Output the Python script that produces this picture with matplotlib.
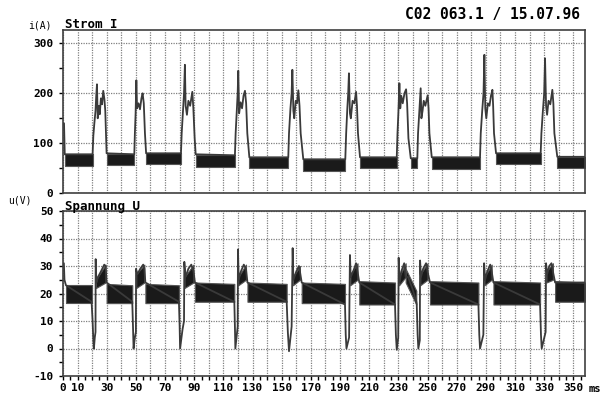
import numpy as np
import matplotlib.pyplot as plt
from matplotlib.ticker import MultipleLocator

# Strom I: Zeit (ms) und Strom (A), Umriss der Kurve
strom_t = [0, 0.7, 1.2,
           20.3, 20.8, 21.5, 22.3, 22.8, 23.3, 23.8, 24.5, 25.2, 26.0, 26.8, 27.6, 28.4, 29.0, 29.9,
           48.9, 49.3, 49.8, 50.3, 50.8, 51.8, 52.8, 53.8, 54.6, 55.4, 56.2, 57.0,
           80.9, 81.4, 82.2, 83.0, 83.6, 84.1, 85.0, 86.0, 87.2, 88.7, 89.4, 90.3, 91.0,
           117.9, 118.4, 119.2, 119.8, 120.2, 120.8, 121.8, 122.8, 123.8, 124.8, 125.6, 126.4, 127.8,
           154.5, 155.0, 156.0, 156.8, 157.3, 158.0, 158.6, 159.6, 160.5, 161.4, 162.2, 163.0, 164.8,
           193.6, 194.2, 195.0, 195.6, 196.1, 196.8, 197.4, 198.6, 199.8, 201.0, 201.6, 202.3, 203.7,
           228.9, 229.4, 230.0, 230.7, 231.3, 232.0, 233.0, 234.2, 235.3, 236.0, 236.9, 238.5,
           243.0, 243.5, 244.3, 245.3, 245.8, 246.6, 247.4, 248.5, 250.1, 250.7, 251.3, 252.9,
           286.0, 286.5, 287.5, 288.4, 289.0, 289.6, 290.3, 291.4, 292.5, 293.5, 294.5, 295.0, 295.6, 297.0,
           327.6, 328.1, 329.0, 330.0, 330.6, 331.3, 332.0, 333.0, 334.2, 335.6, 336.3, 337.0, 339.0,
           358]
strom_i = [140, 140, 78,
           78, 115, 140, 165, 195, 218, 150, 175, 158, 190, 178, 205, 188, 165, 80,
           78, 120, 160, 226, 170, 180, 168, 190, 200, 180, 120, 80,
           80, 120, 160, 200, 257, 175, 157, 185, 175, 203, 170, 110, 78,
           76, 120, 165, 200, 245, 160, 182, 170, 195, 205, 180, 120, 72,
           72, 120, 170, 200, 247, 165, 150, 185, 180, 206, 175, 120, 68,
           68, 120, 170, 200, 240, 160, 150, 185, 180, 203, 175, 120, 72,
           72, 120, 160, 220, 170, 195, 180, 200, 208, 180, 110, 70,
           70, 120, 160, 210, 150, 165, 185, 175, 196, 170, 120, 72,
           72, 120, 165, 200, 277, 170, 150, 180, 175, 195, 207, 175, 120, 80,
           80, 120, 160, 200, 270, 175, 157, 185, 178, 207, 180, 120, 73,
           73]

# Grundstrom-Band (verrauscht): von, bis, unten, oben
strom_band_von = [1.2, 30.0, 57.0, 91.0, 127.8, 164.8, 203.7, 238.5, 252.9, 297.0, 339.0]
strom_band_bis = [20.3, 48.9, 80.9, 117.9, 154.5, 193.6, 228.9, 243.0, 286.0, 327.6, 358]
strom_band_lo = [55, 57, 58, 52, 50, 45, 50, 50, 48, 58, 50]
strom_band_hi = [78, 78, 80, 76, 72, 68, 72, 70, 72, 80, 73]

# Spannung U: Zeit (ms) und Spannung (V)
spannung_t = [0, 0.6, 1.0, 2.0,
              19.6, 20.3, 20.8, 21.2, 21.8, 22.3, 22.4, 22.9, 24.0, 26.0, 28.3, 29.2, 29.9,
              47.5, 48.0, 48.4, 49.3, 50.0, 50.1, 51.0, 53.0, 55.0, 55.8, 56.5,
              79.5, 80.0, 80.3, 82.0, 83.0, 83.2, 84.0, 86.0, 88.0, 89.5, 90.5,
              117.5, 117.9, 118.2, 119.8, 120.0, 120.5, 122.0, 124.0, 125.5, 126.5,
              153.4, 154.2, 155.0, 156.8, 157.5, 158.0, 160.0, 161.8, 162.5, 163.7,
              193.4, 193.9, 194.4, 196.2, 196.8, 197.3, 199.0, 201.0, 202.0, 203.2,
              227.7, 228.3, 228.9, 229.9, 230.2, 230.8, 232.0, 234.0, 235.0, 236.7, 239.5, 242.3,
              242.6, 243.2, 243.7, 244.7, 244.9, 245.5, 247.0, 249.0, 250.0, 251.7,
              284.9, 285.5, 286.0, 288.3, 288.8, 289.5, 291.0, 293.0, 294.0, 295.2,
              327.2, 327.8, 328.3, 331.0, 331.3, 332.0, 333.5, 335.0, 336.0, 337.5,
              358]
spannung_u = [31, 31, 25, 23,
              17, 10, 3, 0, 4, 6, 32.5, 24, 26, 28, 30.5, 30, 24,
              17, 8, 0, 4, 6, 29, 27, 29, 30.5, 29, 24,
              17, 8, 0, 7, 10, 31.5, 26, 29, 30.5, 28, 24,
              17, 8, 0, 8, 36, 25, 28, 30.5, 29, 24,
              17, 6, -1, 8, 36.5, 25, 28, 30, 28, 24,
              16, 5, 0, 4, 34, 26, 28, 31, 28, 24,
              16, 5, -0.5, 4, 33, 24, 28, 31, 26, 26, 22, 17,
              16, 5, 0, 3, 32, 26, 29, 31, 28, 24,
              16, 5, 0, 5, 31, 25, 28, 30.5, 28, 24,
              16, 5, 0, 6, 31, 27, 30, 31, 28, 24,
              24]

# Spannungs-Band: von, bis, unten (Anfang/Ende), oben (Anfang/Ende)
spannung_band_von = [2.0, 22.6, 29.9, 50.2, 56.5, 83.3, 90.5, 120.2, 126.5, 157.7, 163.7,
                     197.0, 203.2, 230.5, 235.0, 245.0, 251.7, 289.0, 295.2, 331.5, 337.5]
spannung_band_bis = [19.6, 29.2, 47.5, 55.8, 79.5, 89.5, 117.5, 125.5, 153.4, 162.5, 193.4,
                     202.0, 227.7, 235.0, 242.3, 250.0, 284.9, 294.0, 327.2, 336.0, 358]
spannung_lo0 = [16.5, 22, 16.5, 22, 16.5, 22, 17, 23, 17, 23, 16.5,
                23, 16, 23, 24, 23, 16, 23, 16, 24, 17]
spannung_lo1 = [16.5, 24, 16.5, 24, 16.5, 24, 17, 25, 17, 25, 16.5,
                25, 16, 26, 16, 25, 16, 25, 16, 25, 17]
spannung_hi0 = [23, 25, 23.5, 27, 23.5, 26, 24, 26, 24, 26, 24,
                27, 24.5, 26, 29, 27, 24.5, 26, 24.5, 28, 24.5]
spannung_hi1 = [23, 30.5, 23, 30.5, 23, 30.5, 23.5, 30.5, 23.5, 30, 23.5,
                31, 24, 31, 21, 31, 24, 30.5, 24, 31, 24]

x_labels = [0, 10, 30, 50, 70, 90, 110, 130, 150, 170, 190, 210, 230, 250,
            270, 290, 310, 330, 350]

mono = 'DejaVu Sans Mono'
plt.rcParams['font.family'] = mono

fig = plt.figure(figsize=(6.05, 4.0), dpi=100)
ax1 = fig.add_axes([63 / 605, 1 - 193.3 / 400, 522 / 605, 163.3 / 400])
ax2 = fig.add_axes([63 / 605, 24 / 400, 522 / 605, 165 / 400])

grid_kw = dict(color='#808080', linestyle=(0, (1, 1)), linewidth=0.9)
band_kw = dict(facecolor='#1a1a1a', edgecolor='#555555', linewidth=0.8)
trace_kw = dict(color='#3a3a3a', linewidth=1.3)

for ax in (ax1, ax2):
    ax.set_xlim(0, 358)
    ax.xaxis.set_major_locator(MultipleLocator(10))
    ax.xaxis.set_minor_locator(MultipleLocator(5))
    ax.grid(True, which='major', **grid_kw)
    ax.set_axisbelow(True)
    for s in ax.spines.values():
        s.set_color('#404040')
        s.set_linewidth(1.2)
    ax.tick_params(axis='y', which='major', direction='out', length=3, width=1,
                   labelsize=8, pad=4)
    ax.tick_params(axis='y', which='minor', direction='out', length=3, width=1)

# oberes Diagramm: Strom
for a, b, lo, hi in zip(strom_band_von, strom_band_bis, strom_band_lo, strom_band_hi):
    ax1.fill_between([a, b], [lo, lo], [hi, hi], **band_kw)
ax1.plot(strom_t, strom_i, **trace_kw)
ax1.set_ylim(0, 326.6)
ax1.yaxis.set_minor_locator(MultipleLocator(50))
ax1.tick_params(axis='x', which='both', length=0, labelbottom=False)
ax1.set_yticks([0, 100, 200, 300])
ax1.set_yticklabels(['0', '100', '200', '300'], fontweight='bold', fontsize=8)

# unteres Diagramm: Spannung
for a, b, l0, l1, h0, h1 in zip(spannung_band_von, spannung_band_bis, spannung_lo0,
                                 spannung_lo1, spannung_hi0, spannung_hi1):
    ax2.fill_between([a, b], [l0, l1], [h0, h1], **band_kw)
ax2.plot(spannung_t, spannung_u, **trace_kw)
ax2.set_ylim(-10, 50)
ax2.set_yticks(np.arange(-10, 51, 10))
ax2.set_yticklabels([str(v) for v in range(-10, 51, 10)], fontweight='bold', fontsize=8)
ax2.yaxis.set_minor_locator(MultipleLocator(5))
ax2.set_xticks(np.arange(0, 351, 10))
ax2.set_xticklabels([str(v) if v in x_labels else '' for v in range(0, 351, 10)],
                    fontweight='bold', fontsize=8)
ax2.tick_params(axis='x', which='both', direction='out', length=3, width=1, pad=2)

fig.text(28 / 605, 1 - 25 / 400, 'i(A)', fontsize=7, va='center')
fig.text(65 / 605, 1 - 25 / 400, 'Strom I', fontsize=9, fontweight='bold', va='center')
fig.text(580 / 605, 1 - 15 / 400, 'C02 063.1 / 15.07.96', fontsize=10.5,
         fontweight='bold', ha='right', va='center')
fig.text(8 / 605, 1 - 201 / 400, 'u(V)', fontsize=7, va='center')
fig.text(65 / 605, 1 - 207 / 400, 'Spannung U', fontsize=9, fontweight='bold', va='center')
fig.text(589 / 605, 1 - 389 / 400, 'ms', fontsize=7.5, fontweight='bold', va='center')

fig.savefig('out.png', dpi=100)
